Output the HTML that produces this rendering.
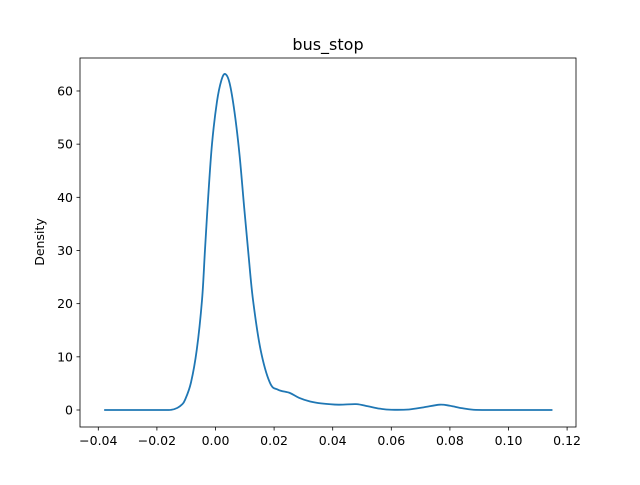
<!DOCTYPE html>
<html><head><meta charset="utf-8"><style>
body{margin:0;background:#fff;}
text{font-family:"DejaVu Sans","Liberation Sans",sans-serif;}
</style></head><body>
<svg id="chart" width="640" height="480">
<rect width="640" height="480" fill="#fff"/>
<g id="ticks"></g>
<path id="kde" fill="none" stroke="#1f77b4" stroke-width="1.8" stroke-linejoin="round"/>
<rect x="80" y="58" width="496" height="369" fill="none" stroke="#000" stroke-width="0.8"/>
<text x="328" y="50" font-size="16" text-anchor="middle">bus_stop</text>
<text x="0" y="0" font-size="12.5" text-anchor="middle" transform="translate(44,242) rotate(-90)">Density</text>
</svg>
<script>
const xTicks=[-0.04,-0.02,0.00,0.02,0.04,0.06,0.08,0.10,0.12];
const xTickLabels=["−0.04","−0.02","0.00","0.02","0.04","0.06","0.08","0.10","0.12"];
const yTicks=[0,10,20,30,40,50,60];
const kdeX=[-0.038,-0.018,-0.015,-0.013,-0.0115,-0.0104,-0.0084,-0.0064,-0.0046,-0.0036,-0.0025,-0.0012,0.0005,0.002,0.0033,0.0048,0.0065,0.0082,0.0098,0.0113,0.0128,0.0154,0.0186,0.0214,0.0254,0.0285,0.0323,0.036,0.042,0.048,0.052,0.056,0.06,0.066,0.071,0.0765,0.08,0.084,0.088,0.095,0.115];
const kdeY=[0,0,0.05,0.4,1.0,1.9,5.1,11.3,20.7,30,40,50,58,62,63.2,61.5,56,48,38,29,20.7,11.3,5.1,3.8,3.2,2.3,1.6,1.25,1.0,1.1,0.7,0.25,0.05,0.1,0.5,1.0,0.8,0.35,0.05,0,0];
function sx(v){return 215.5+v*2930;}
function sy(v){return 410-v*5.317;}
const ns="http://www.w3.org/2000/svg";
const g=document.getElementById('ticks');
xTicks.forEach((t,i)=>{
  const l=document.createElementNS(ns,'line');
  l.setAttribute('x1',sx(t));l.setAttribute('x2',sx(t));l.setAttribute('y1',427);l.setAttribute('y2',430.5);l.setAttribute('stroke','#000');l.setAttribute('stroke-width','0.8');
  
  
  g.appendChild(l);
  const tx=document.createElementNS(ns,'text');
  tx.setAttribute('x',sx(t));tx.setAttribute('y',445);tx.setAttribute('font-size','12.5');tx.setAttribute('text-anchor','middle');
  tx.textContent=xTickLabels[i];
  
  
  g.appendChild(tx);
});
yTicks.forEach(t=>{
  const l=document.createElementNS(ns,'line');
  l.setAttribute('x1',76.5);l.setAttribute('x2',80);l.setAttribute('y1',sy(t));l.setAttribute('y2',sy(t));l.setAttribute('stroke','#000');l.setAttribute('stroke-width','0.8');
  
  
  g.appendChild(l);
  const tx=document.createElementNS(ns,'text');
  tx.setAttribute('x',73);tx.setAttribute('y',sy(t)+4.5);tx.setAttribute('font-size','12.5');tx.setAttribute('text-anchor','end');
  tx.textContent=String(t);
  
  
  g.appendChild(tx);
});
const P=kdeX.map((x,i)=>[sx(x),sy(kdeY[i])]);
let d='M'+P[0][0]+','+P[0][1];
for(let i=0;i<P.length-1;i++){
  const p0=P[Math.max(0,i-1)],p1=P[i],p2=P[i+1],p3=P[Math.min(P.length-1,i+2)];
  const c1=[p1[0]+(p2[0]-p0[0])/6,p1[1]+(p2[1]-p0[1])/6];
  const c2=[p2[0]-(p3[0]-p1[0])/6,p2[1]-(p3[1]-p1[1])/6];
  d+=' C'+c1+' '+c2+' '+p2;
}
document.getElementById('kde').setAttribute('d',d);
</script>
</body></html>
